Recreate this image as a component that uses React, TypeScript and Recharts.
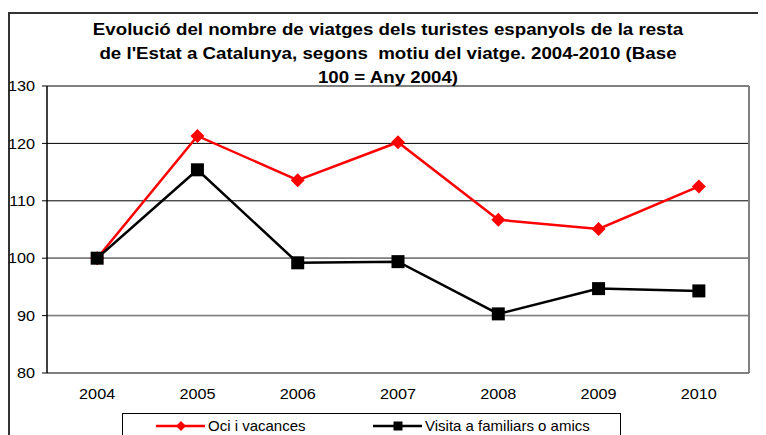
import React from 'react';
import { LineChart, Line, XAxis, YAxis, CartesianGrid, ReferenceLine } from 'recharts';

const years = ['2004', '2005', '2006', '2007', '2008', '2009', '2010'];
const ociVacances = [100, 121.3, 113.6, 120.2, 106.7, 105.1, 112.5];
const visitaFamiliars = [100, 115.4, 99.2, 99.4, 90.3, 94.7, 94.3];
const yTicks = [80, 90, 100, 110, 120, 130];
const xIndexTicks = [0, 1, 2, 3, 4, 5, 6];
const xBoundaryTicks = [-0.5, 0.5, 1.5, 2.5, 3.5, 4.5, 5.5, 6.5];

const series = [
  { key: 'oci', name: 'Oci i vacances', color: '#FF0000', marker: 'diamond' },
  { key: 'vis', name: 'Visita a familiars o amics', color: '#000000', marker: 'square' },
];

const data = years.map((year, i) => ({
  x: i,
  year,
  oci: ociVacances[i],
  vis: visitaFamiliars[i],
}));

const FONT = '"Liberation Sans", Arial, Helvetica, sans-serif';
const STRETCH = 1.12;

const Diamond = (props: any) => {
  const { cx, cy, fill, r = 7 } = props;
  if (cx == null || cy == null) return null;
  return <path d={`M${cx},${cy - r}L${cx + r},${cy}L${cx},${cy + r}L${cx - r},${cy}Z`} fill={fill} />;
};

const Square = (props: any) => {
  const { cx, cy, fill, s = 13 } = props;
  if (cx == null || cy == null) return null;
  return <rect x={cx - s / 2} y={cy - s / 2} width={s} height={s} fill={fill} />;
};

const XTick = (props: any) => {
  const { x, y, payload } = props;
  return (
    <g transform={`translate(${x},${y}) scale(${STRETCH},1)`}>
      <text x={0} y={0} dy="0.71em" textAnchor="middle" fill="#000" fontSize={14.5} fontFamily={FONT}>
        {years[payload.value]}
      </text>
    </g>
  );
};

const YTick = (props: any) => {
  const { x, y, payload } = props;
  return (
    <g transform={`translate(${x},${y}) scale(${STRETCH},1)`}>
      <text x={0} y={0} dy="0.355em" textAnchor="end" fill="#000" fontSize={14.5} fontFamily={FONT}>
        {payload.value}
      </text>
    </g>
  );
};

export default function App() {
  return (
    <div style={{ position: 'relative', width: 758, height: 427, overflow: 'hidden', fontFamily: FONT }}>
      <div
        style={{
          position: 'absolute',
          left: 0,
          top: 4,
          width: 800,
          height: 500,
          borderLeft: '2px solid #333',
          borderTop: '2px solid #333',
        }}
      />
      <div
        style={{
          position: 'absolute',
          left: 0,
          top: 10,
          width: 760,
          textAlign: 'center',
          fontWeight: 'bold',
          fontSize: 17,
          lineHeight: '24px',
          whiteSpace: 'pre',
          color: '#000',
          zIndex: 2,
          transform: 'scaleX(1.1)',
          transformOrigin: '380px 0',
        }}
      >
        {'Evolució del nombre de viatges dels turistes espanyols de la resta\nde l\'Estat a Catalunya, segons  motiu del viatge. 2004-2010 (Base\n100 = Any 2004)'}
      </div>
      <div style={{ position: 'absolute', left: 0, top: 0 }}>
        <LineChart width={758} height={427} data={data} margin={{ top: 78, right: 17, bottom: 32, left: 0 }}>
          <CartesianGrid horizontal vertical={false} stroke="#000" strokeWidth={1} />
          <ReferenceLine y={100} stroke="#808080" strokeWidth={1.5} />
          <ReferenceLine y={90} stroke="#808080" strokeWidth={1.5} />
          <ReferenceLine y={130} stroke="#808080" strokeWidth={2} />
          <ReferenceLine x={6.5} xAxisId="ticks" stroke="#808080" strokeWidth={2} />
          <XAxis
            xAxisId="ticks"
            dataKey="x"
            type="number"
            domain={[-0.5, 6.5]}
            ticks={xBoundaryTicks}
            tick={false}
            height={0}
            tickSize={5}
            axisLine={{ stroke: '#000', strokeWidth: 1.5 }}
            tickLine={{ stroke: '#000' }}
          />
          <XAxis
            xAxisId="main"
            dataKey="x"
            type="number"
            domain={[-0.5, 6.5]}
            ticks={xIndexTicks}
            height={30}
            axisLine={false}
            tickLine={false}
            tickMargin={10}
            interval={0}
            tick={<XTick />}
          />
          <YAxis
            domain={[80, 130]}
            ticks={yTicks}
            width={39}
            tickSize={5}
            tickMargin={7}
            axisLine={{ stroke: '#000', strokeWidth: 1.5 }}
            tickLine={{ stroke: '#000' }}
            tick={<YTick />}
            interval={0}
          />
          <Line
            xAxisId="main"
            type="linear"
            dataKey="oci"
            name={series[0].name}
            stroke={series[0].color}
            strokeWidth={2.5}
            dot={(p: any) => <Diamond key={`d${p.index}`} cx={p.cx} cy={p.cy} fill={series[0].color} r={7} />}
            activeDot={false}
            isAnimationActive={false}
          />
          <Line
            xAxisId="main"
            type="linear"
            dataKey="vis"
            name={series[1].name}
            stroke={series[1].color}
            strokeWidth={2.5}
            dot={(p: any) => <Square key={`s${p.index}`} cx={p.cx} cy={p.cy} fill={series[1].color} s={13} />}
            activeDot={false}
            isAnimationActive={false}
          />
        </LineChart>
      </div>
      <div
        style={{
          position: 'absolute',
          left: 114,
          top: 405,
          width: 497,
          height: 60,
          border: '1px solid #000',
          background: '#fff',
          fontSize: 15,
          color: '#000',
        }}
      >
        {series.map((s, i) => (
          <div
            key={s.key}
            style={{
              position: 'absolute',
              left: i === 0 ? 33 : 250,
              top: 4,
              display: 'flex',
              alignItems: 'center',
              height: 16,
              whiteSpace: 'nowrap',
            }}
          >
            <svg width={49} height={14} style={{ display: 'block' }}>
              <line x1={0} y1={7} x2={49} y2={7} stroke={s.color} strokeWidth={2.5} />
              {s.marker === 'diamond' ? (
                <Diamond cx={25} cy={7} r={5} fill={s.color} />
              ) : (
                <Square cx={25} cy={7} s={9} fill={s.color} />
              )}
            </svg>
            <span style={{ marginLeft: 3, lineHeight: '16px' }}>{s.name}</span>
          </div>
        ))}
      </div>
    </div>
  );
}
